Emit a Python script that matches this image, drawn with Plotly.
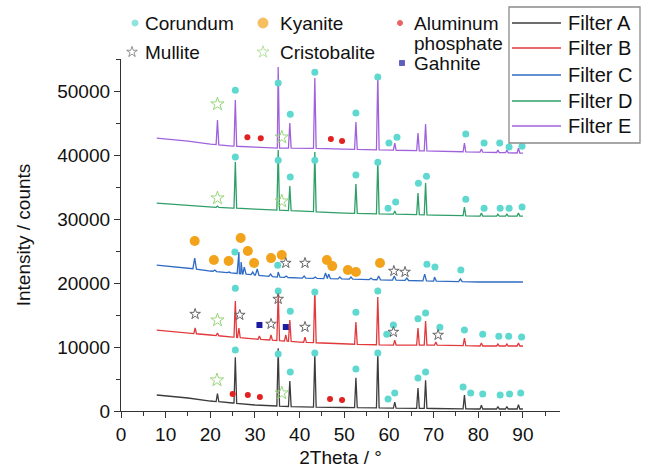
import numpy as np
import plotly.graph_objects as go

# ---------------- data ----------------
filters = ["Filter A", "Filter B", "Filter C", "Filter D", "Filter E"]
colors = ["#3c3c3c", "#e2393c", "#2f6bc4", "#2f9e68", "#a062dc"]

# baseline knots (2Theta, counts)
baseA_x = [8, 15, 20, 25, 30, 40, 50, 60, 70, 80, 90]
baseA_y = [2500, 2030, 1560, 1250, 940, 625, 550, 470, 390, 310, 310]
baseB_x = [8, 15, 20, 25, 30, 40, 50, 60, 70, 80, 90]
baseB_y = [12650, 12190, 11880, 11560, 11250, 10780, 10470, 10310, 10310, 10160, 10160]
baseC_x = [8, 15, 20, 25, 30, 35, 40, 50, 60, 70, 80, 90]
baseC_y = [22810, 22340, 21880, 21560, 21250, 20940, 20780, 20630, 20470, 20310, 20160, 20160]
baseD_x = [8, 15, 20, 25, 30, 40, 50, 60, 70, 80, 90]
baseD_y = [32500, 32190, 31880, 31720, 31560, 31250, 30940, 30780, 30630, 30470, 30470]
baseE_x = [8, 15, 20, 25, 30, 35, 40, 50, 60, 70, 80, 90]
baseE_y = [42660, 42190, 41720, 41410, 41250, 41090, 41090, 40940, 40780, 40630, 40470, 40310]

# peak positions and peak-top counts
peakA_x = [21.6, 25.6, 35.2, 37.8, 43.4, 52.6, 57.5, 61.3, 66.5, 68.2, 76.9, 80.7, 84.4, 86.4, 89.0]
peakA_y = [2700, 8400, 9800, 4700, 9000, 5200, 9200, 1400, 3600, 4800, 2500, 900, 700, 700, 1000]
peakB_x = [16.6, 21.6, 25.6, 26.4, 31.0, 33.6, 35.2, 36.9, 37.8, 41.2, 43.4, 52.6, 57.5, 61.3,
           66.5, 68.2, 70.5, 76.9, 80.7, 84.4, 86.4, 89.0]
peakB_y = [12970, 12190, 17190, 12970, 11720, 11880, 18280, 11880, 14220, 11560, 19060, 13900,
           17810, 11090, 12970, 14060, 10780, 11400, 10620, 10470, 10470, 10620]
peakC_x = [16.5, 21.0, 24.2, 26.4, 26.9, 27.6, 29.5, 30.5, 33.5, 35.2, 37.0, 38.5, 41.0, 43.5,
           45.8, 46.5, 49.0, 51.5, 56.0, 57.7, 61.2, 64.0, 68.0, 70.2, 76.0]
peakC_y = [23910, 22030, 21720, 24840, 23280, 22500, 21720, 22190, 21400, 21720, 21090, 20940,
           21090, 20940, 21560, 21400, 20940, 20940, 20780, 21090, 21090, 20780, 21400, 20940, 20630]
peakD_x = [21.6, 25.6, 35.2, 37.8, 43.4, 52.6, 57.5, 61.3, 66.5, 68.2, 76.9, 80.7, 84.4, 86.4, 89.0]
peakD_y = [32030, 38900, 40780, 35160, 40470, 35470, 39220, 31250, 34060, 35620, 31880, 30940,
           30780, 30780, 30940]
peakE_x = [21.6, 25.6, 35.2, 37.8, 43.4, 52.6, 57.5, 61.3, 66.5, 68.2, 76.9, 80.7, 84.4, 86.4, 89.0]
peakE_y = [45470, 48590, 53750, 45000, 52030, 45160, 52500, 41880, 43440, 44840, 41880, 40940,
           40780, 40780, 41090]

# phase markers (2Theta, counts)
corundum_x = [25.6, 35.2, 37.9, 43.4, 52.6, 57.5, 59.8, 61.3, 66.5, 68.2, 76.6, 78.3, 81.0, 84.9, 87.0, 89.5,
              25.6, 35.2, 37.9, 43.4, 52.6, 57.5, 59.5, 61.0, 66.5, 68.2, 71.4, 76.9, 81.0, 84.6, 86.8, 89.7,
              25.5, 35.1, 68.5, 70.3, 76.1,
              25.6, 35.2, 37.9, 43.4, 52.6, 57.5, 59.8, 61.5, 66.6, 68.4, 77.2, 81.3, 84.9, 86.9, 89.8,
              25.6, 35.2, 37.9, 43.4, 52.6, 57.5, 60.0, 61.8, 77.2, 81.3, 84.8, 86.9, 89.8]
corundum_y = [9530, 8900, 6100, 9060, 6560, 9060, 1875, 2800, 5150, 6100, 3750, 2800, 2650, 2500, 2650, 2800,
              19200, 18750, 15600, 18600, 15450, 18750, 12000, 13450, 14400, 15300, 13100, 12650, 12000, 11700, 11700, 11550,
              24850, 22800, 22950, 22500, 22030,
              39700, 39200, 36560, 39200, 36900, 38900, 31700, 32650, 35600, 36700, 33100, 31700, 31700, 31700, 31900,
              50150, 51250, 46400, 52950, 46560, 52200, 41900, 42800, 43300, 41900, 41900, 41250, 41400]
kyanite_x = [16.5, 20.8, 24.1, 26.8, 28.4, 29.8, 33.6, 36.0, 46.1, 47.3, 50.8, 52.6, 58.0]
kyanite_y = [26560, 23600, 23440, 27030, 25000, 23125, 23900, 24375, 23600, 22650, 22030, 21720, 23125]
alphos_x = [25.0, 28.4, 31.1, 46.8, 49.5, 28.3, 31.3, 47.0, 49.5]
alphos_y = [2650, 2500, 2190, 1875, 1720, 42800, 42650, 42500, 42190]
gahnite_x = [31.0, 36.9]
gahnite_y = [13440, 13125]
mullite_x = [16.6, 26.6, 33.6, 35.2, 41.2, 61.0, 71.0, 36.9, 41.2, 61.1, 63.6]
mullite_y = [15150, 15000, 13600, 17500, 13125, 12340, 11875, 23125, 23125, 21875, 21720]
cristo_x = [21.5, 36.0, 21.6, 21.6, 36.0, 21.6, 36.0]
cristo_y = [4840, 2800, 14200, 33280, 32800, 47970, 42800]

phase_names = ["Corundum", "Kyanite", "Aluminum", "phosphate", "Mullite", "Cristobalite", "Gahnite"]
x_ticks = [0, 10, 20, 30, 40, 50, 60, 70, 80, 90]
y_ticks = [0, 10000, 20000, 30000, 40000, 50000]

# ---------------- geometry ----------------
W, H = 646, 473
PL, PR, PT, PB = 121, 560, 59, 411  # pixel box of the data axes
FONT = "Liberation Sans, Arial, sans-serif"
C_COR, C_KY, C_AP, C_GA, C_MU, C_CR = "#5fd8d0", "#f2a31b", "#e02222", "#1c1ca0", "#666666", "#98d67c"


def build(bx, by, px, py, hw):
    xs, ys = list(bx), list(by)
    for p, t in zip(px, py):
        b = np.interp([p - hw, p + hw], bx, by)
        xs += [p - hw, p, p + hw]
        ys += [b[0], t, b[1]]
    order = np.argsort(xs, kind="stable")
    return np.array(xs)[order], np.array(ys)[order]


curves = [
    (baseA_x, baseA_y, peakA_x, peakA_y, 0.3),
    (baseB_x, baseB_y, peakB_x, peakB_y, 0.3),
    (baseC_x, baseC_y, peakC_x, peakC_y, 0.4),
    (baseD_x, baseD_y, peakD_x, peakD_y, 0.3),
    (baseE_x, baseE_y, peakE_x, peakE_y, 0.3),
]

fig = go.Figure()
for name, col, (bx, by, px, py, hw) in zip(filters, colors, curves):
    xs, ys = build(bx, by, px, py, hw)
    fig.add_trace(go.Scatter(x=xs, y=ys, mode="lines", name=name, showlegend=False,
                             line=dict(color=col, width=1.3)))


def markers(x, y, symbol, color, size, lw=0, lc=None):
    return go.Scatter(x=x, y=y, mode="markers", showlegend=False, hoverinfo="skip",
                      cliponaxis=False,
                      marker=dict(symbol=symbol, color=color, size=size,
                                  line=dict(width=lw, color=lc or color)))


fig.add_trace(markers(corundum_x, corundum_y, "circle", C_COR, 7))
fig.add_trace(markers(kyanite_x, kyanite_y, "circle", C_KY, 10))
fig.add_trace(markers(alphos_x, alphos_y, "circle", C_AP, 6))
fig.add_trace(markers(gahnite_x, gahnite_y, "square", C_GA, 6))
fig.add_trace(markers(mullite_x, mullite_y, "star-open", C_MU, 8, 1, C_MU))
fig.add_trace(markers(cristo_x, cristo_y, "star-open", C_CR, 10, 1, C_CR))

# ---- keys drawn on an overlay subplot in pixel units ----
key_x = [135, 263, 400, 132, 263, 402]
key_y = [23, 23, 23, 52, 52, 63]
key_sym = ["circle", "circle", "circle", "star-open", "star-open", "square"]
key_col = [C_COR, C_KY, C_AP, C_MU, C_CR, C_GA]
key_size = [6, 10, 5, 8, 9, 5]
fig.add_trace(go.Scatter(x=key_x, y=key_y, xaxis="x2", yaxis="y2", mode="markers",
                         showlegend=False, hoverinfo="skip", cliponaxis=False,
                         marker=dict(symbol=key_sym, color=key_col, size=key_size,
                                     line=dict(width=1, color=key_col))))
txt_x = [143, 278, 412, 412, 143, 278, 412]
txt_y = [23, 23, 23, 43, 52, 52, 63]
for t, x, y in zip(phase_names, txt_x, txt_y):
    fig.add_annotation(text=t, x=x, y=y, xref="x2", yref="y2", showarrow=False,
                       xanchor="left", yanchor="middle",
                       font=dict(family=FONT, size=19, color="#111"))

# filter legend box
fig.add_shape(type="rect", xref="x2", yref="y2", x0=509, x1=640, y0=7, y1=143,
              line=dict(color="#8a8a8a", width=1.3), fillcolor="white", layer="above")
leg_y = [23, 48, 75, 101, 126]
for name, col, y in zip(filters, colors, leg_y):
    fig.add_shape(type="line", xref="x2", yref="y2", x0=512, x1=561, y0=y, y1=y,
                  line=dict(color=col, width=1.6), layer="above")
    fig.add_annotation(text=name, x=566, y=y, xref="x2", yref="y2", showarrow=False,
                       xanchor="left", yanchor="middle",
                       font=dict(family=FONT, size=20, color="#111"))

axis_common = dict(showline=True, linecolor="#333", linewidth=1.3, ticks="outside",
                   tickcolor="#333", tickwidth=1.3, ticklen=6, showgrid=False,
                   zeroline=False, tickfont=dict(family=FONT, size=19, color="#111"),
                   mirror=False)

fig.update_layout(
    width=W, height=H,
    margin=dict(l=PL, r=0, t=0, b=H - PB),
    paper_bgcolor="white", plot_bgcolor="rgba(0,0,0,0)",
    font=dict(family=FONT, size=19, color="#111"),
    showlegend=False,
    xaxis=dict(domain=[0, (PR - PL) / (W - PL)], range=[0, 98.3], tickvals=x_ticks, anchor="y",
               title=dict(text="2Theta / °", standoff=6, font=dict(family=FONT, size=19)),
               minor=dict(dtick=5, ticklen=4, tickcolor="#333", ticks="outside", tickwidth=1.2),
               **axis_common),
    yaxis=dict(domain=[0, (PB - PT) / PB], range=[0, 55020], tickvals=y_ticks, tickformat="d",
               anchor="x",
               title=dict(text="Intensity / counts", standoff=21, font=dict(family=FONT, size=19)),
               minor=dict(tickvals=[5000, 15000, 25000, 35000, 45000, 55000], ticklen=4,
                          tickcolor="#333", ticks="outside", tickwidth=1.2),
               **axis_common),
    xaxis2=dict(domain=[0, 1], range=[PL, W], anchor="y2", visible=False, fixedrange=True),
    yaxis2=dict(domain=[0, 1], range=[PB, 0], anchor="x2", visible=False, fixedrange=True),
)

fig.write_html("out.html")
